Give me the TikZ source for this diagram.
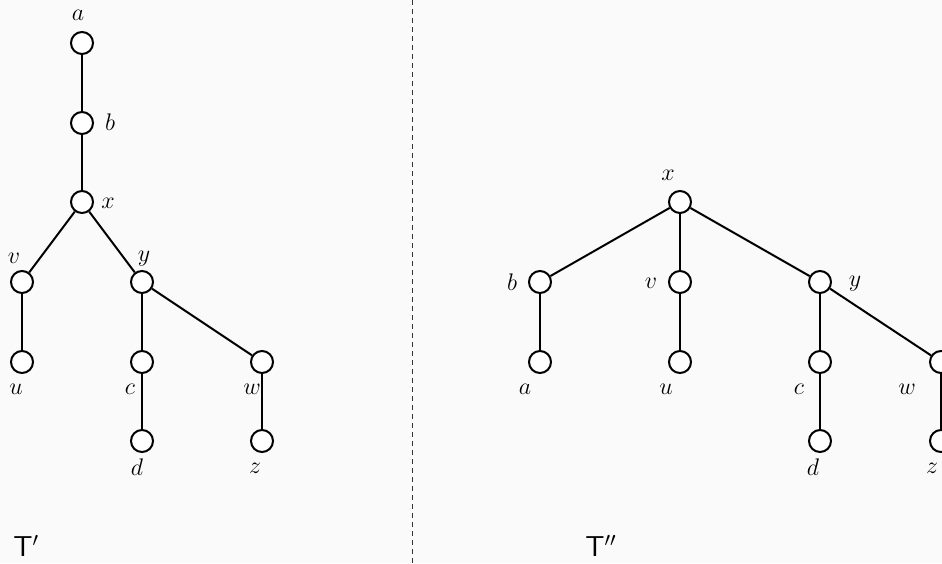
\documentclass[tikz,border=0pt]{standalone}
\begin{document}
\begin{tikzpicture}[x=0.5pt,y=-0.5pt,
  vtx/.style={circle,draw,line width=1pt,fill=white,minimum size=11pt,inner sep=0pt},
  edge/.style={line width=1pt},
  lbl/.style={font=\fontsize{13}{16}\selectfont,inner sep=0pt},
  ttl/.style={font=\fontsize{14}{17}\selectfont,inner sep=0pt}]
\useasboundingbox (0,0) rectangle (942,563);
\fill[fill={rgb,255:red,250;green,250;blue,250}] (0,0) rectangle (942,563);
\clip (0,0) rectangle (942,563);
% divider
\coordinate (dtop) at (412,0);
\coordinate (dbot) at (412,563);
\draw[line width=0.5pt,dash pattern=on 2.5pt off 2pt,black!80] (dtop) -- (dbot);
% left tree
\node[vtx] (La) at (82,43) {};
\node[vtx] (Lb) at (82,123) {};
\node[vtx] (Lx) at (82,202) {};
\node[vtx] (Lv) at (22,282) {};
\node[vtx] (Ly) at (142,282) {};
\node[vtx] (Lu) at (22,362) {};
\node[vtx] (Lc) at (142,362) {};
\node[vtx] (Ld) at (142,441) {};
\node[vtx] (Lw) at (262,362) {};
\node[vtx] (Lz) at (262,441) {};
\draw[edge] (La) -- (Lb);
\draw[edge] (Lb) -- (Lx);
\draw[edge] (Lx) -- (Lv);
\draw[edge] (Lx) -- (Ly);
\draw[edge] (Lv) -- (Lu);
\draw[edge] (Ly) -- (Lc);
\draw[edge] (Lc) -- (Ld);
\draw[edge] (Ly) -- (Lw);
\draw[edge] (Lw) -- (Lz);
\node[lbl] (tLa) at (78,15) {$a$};
\node[lbl] (tLb) at (110,122) {$b$};
\node[lbl] (tLx) at (108,203) {$x$};
\node[lbl] (tLv) at (14,258) {$v$};
\node[lbl] (tLy) at (144,259) {$y$};
\node[lbl] (tLu) at (16,389) {$u$};
\node[lbl] (tLc) at (130,389) {$c$};
\node[lbl] (tLd) at (137,467) {$d$};
\node[lbl] (tLw) at (252,389) {$w$};
\node[lbl] (tLz) at (255,468) {$z$};
\node[ttl,anchor=west] (T1) at (13,546) {$\mathsf{T}'$};
% right tree
\node[vtx] (Rx) at (680,202) {};
\node[vtx] (Rb) at (540,282) {};
\node[vtx] (Rv) at (680,282) {};
\node[vtx] (Ry) at (820,282) {};
\node[vtx] (Ra) at (540,362) {};
\node[vtx] (Ru) at (680,362) {};
\node[vtx] (Rc) at (820,362) {};
\node[vtx] (Rd) at (820,441) {};
\node[vtx] (Rw) at (941,362) {};
\node[vtx] (Rz) at (941,441) {};
\draw[edge] (Rx) -- (Rb);
\draw[edge] (Rx) -- (Rv);
\draw[edge] (Rx) -- (Ry);
\draw[edge] (Rb) -- (Ra);
\draw[edge] (Rv) -- (Ru);
\draw[edge] (Ry) -- (Rc);
\draw[edge] (Rc) -- (Rd);
\draw[edge] (Ry) -- (Rw);
\draw[edge] (Rw) -- (Rz);
\node[lbl] (tRx) at (668,175) {$x$};
\node[lbl] (tRb) at (512,282) {$b$};
\node[lbl] (tRv) at (651,283) {$v$};
\node[lbl] (tRy) at (855,284) {$y$};
\node[lbl] (tRa) at (525,389) {$a$};
\node[lbl] (tRu) at (666,389) {$u$};
\node[lbl] (tRc) at (799,389) {$c$};
\node[lbl] (tRd) at (813,467) {$d$};
\node[lbl] (tRw) at (907,389) {$w$};
\node[lbl] (tRz) at (932,468) {$z$};
\node[ttl,anchor=west] (T2) at (585,546) {$\mathsf{T}''$};
\end{tikzpicture}
\end{document}
